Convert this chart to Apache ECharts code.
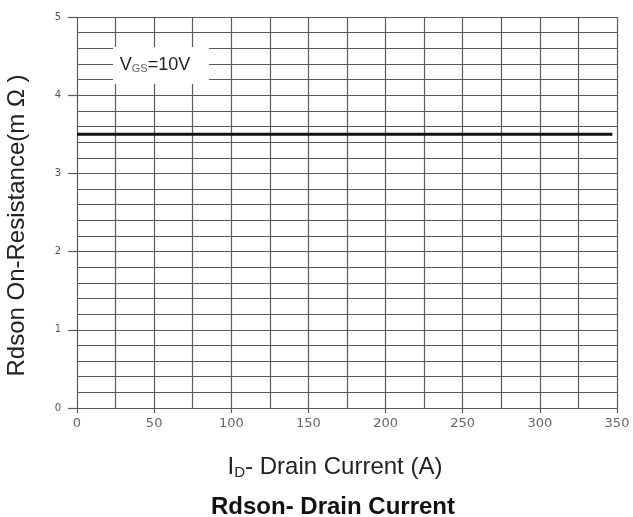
<!DOCTYPE html>
<html>
<head>
<meta charset="utf-8">
<script src="https://cdn.jsdelivr.net/npm/echarts@6/dist/echarts.min.js"></script>
<style>
  html, body { margin: 0; padding: 0; background: #fff; }
  #chart { width: 633px; height: 517px; }
</style>
</head>
<body>
<div id="chart"></div>
<script>
// data
const drainCurrent = [0, 347];
const rdson = [3.5, 3.5];
const xTicks = [0, 50, 100, 150, 200, 250, 300, 350];
const yTicks = [0, 1, 2, 3, 4, 5];

const gridColor = '#5a5a5a';
const chart = echarts.init(document.getElementById('chart'));

chart.setOption({
    animation: false,
    title: {
        text: 'Rdson- Drain Current',
        left: 328,
        textAlign: 'center',
        top: 490,
        textStyle: { fontFamily: 'Liberation Sans', fontSize: 24, fontWeight: 'bold', color: '#111' }
    },
    grid: { left: 77, right: 16, top: 17, bottom: 109, outerBoundsMode: 'none' },
    xAxis: {
        type: 'value',
        min: xTicks[0],
        max: xTicks[xTicks.length - 1],
        interval: 50,
        name: 'I{sub|D}- Drain Current (A)',
        nameLocation: 'middle',
        nameGap: 47,
        nameTextStyle: {
            fontFamily: 'Liberation Sans', fontSize: 24, color: '#222',
            padding: [0, 24, 0, 0],
            rich: {
                sub: { fontFamily: 'Liberation Sans', fontSize: 15, color: '#222', verticalAlign: 'bottom', padding: [10, 0, 0, 0] }
            }
        },
        axisLine: { show: false },
        axisTick: { show: true, length: 5, lineStyle: { color: gridColor, width: 1.2 } },
        axisLabel: { fontFamily: 'DejaVu Sans', fontSize: 13, color: '#666', margin: 9 },
        splitLine: { show: true, lineStyle: { color: gridColor, width: 1.2 } },
        minorTick: { show: false, splitNumber: 2 },
        minorSplitLine: { show: true, lineStyle: { color: gridColor, width: 1.2 } }
    },
    yAxis: {
        type: 'value',
        min: yTicks[0],
        max: yTicks[yTicks.length - 1],
        interval: 1,
        name: 'Rdson On-Resistance(m Ω )',
        nameLocation: 'middle',
        nameGap: 48,
        nameTextStyle: { fontFamily: 'Liberation Sans', fontSize: 24, color: '#222', padding: [0, 26, 0, 0] },
        axisLine: { show: false },
        axisTick: { show: true, length: 9, lineStyle: { color: gridColor, width: 1.2 } },
        axisLabel: { fontFamily: 'DejaVu Sans', fontSize: 10, color: '#555', margin: 16 },
        splitLine: { show: true, lineStyle: { color: gridColor, width: 1.2 } },
        minorTick: { show: false, splitNumber: 5 },
        minorSplitLine: { show: true, lineStyle: { color: gridColor, width: 1.2 } }
    },
    graphic: [{
        type: 'rect',
        left: 113,
        top: 47,
        z: 100,
        shape: { width: 96, height: 37 },
        style: { fill: '#fff' }
    }, {
        type: 'text',
        x: 155,
        y: 65,
        z: 101,
        style: {
            text: 'V{sub|GS}=10V',
            fontFamily: 'Liberation Sans',
            fontSize: 18,
            fill: '#222',
            align: 'center',
            verticalAlign: 'middle',
            rich: {
                sub: { fontFamily: 'Liberation Sans', fontSize: 11, fill: '#666', padding: [7, 0, 0, 0] }
            }
        }
    }],
    series: [{
        type: 'line',
        data: drainCurrent.map((x, i) => [x, rdson[i]]),
        showSymbol: false,
        lineStyle: { color: '#111', width: 3 },
        z: 5
    }]
});
</script>
</body>
</html>
